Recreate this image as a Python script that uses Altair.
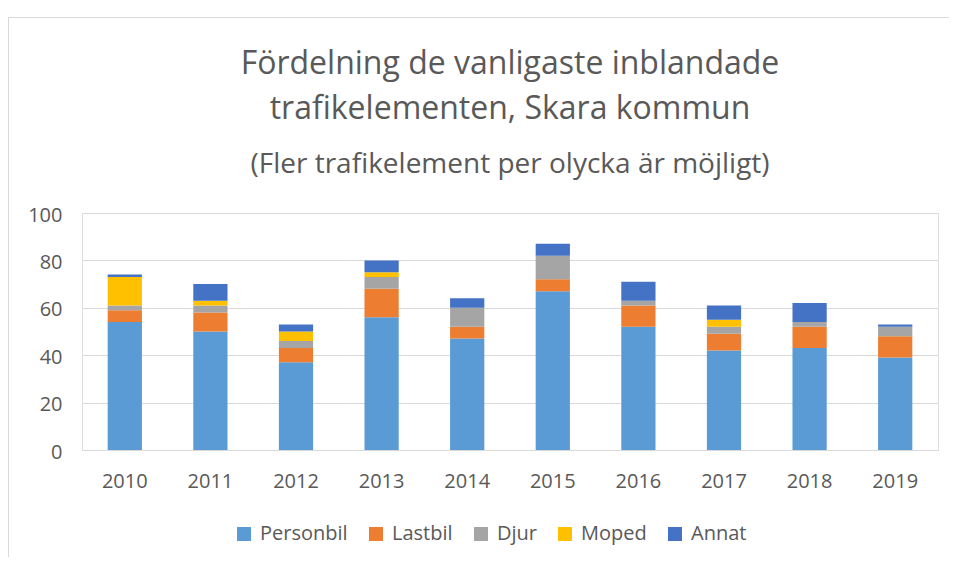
import altair as alt
import pandas as pd

years = ["2010", "2011", "2012", "2013", "2014", "2015", "2016", "2017", "2018", "2019"]
categories = ["Personbil", "Lastbil", "Djur", "Moped", "Annat"]
personbil = [54, 50, 37, 56, 47, 67, 52, 42, 43, 39]
lastbil = [5, 8, 6, 12, 5, 5, 9, 7, 9, 9]
djur = [2, 3, 3, 5, 8, 10, 2, 3, 2, 4]
moped = [12, 2, 4, 2, 0, 0, 0, 3, 0, 0]
annat = [1, 7, 3, 5, 4, 5, 8, 6, 8, 1]
colors = ["#5B9BD5", "#ED7D31", "#A5A5A5", "#FFC000", "#4472C4"]

title_line1 = "Fördelning de vanligaste inblandade"
title_line2 = "trafikelementen, Skara kommun"
subtitle = "(Fler trafikelement per olycka är möjligt)"

series = [personbil, lastbil, djur, moped, annat]
rows = []
for ci, (cat, vals) in enumerate(zip(categories, series)):
    for y, v in zip(years, vals):
        rows.append({"År": y, "Typ": cat, "Antal": v, "idx": ci})
df = pd.DataFrame(rows)

FONT = "Open Sans"
TXT = "#595959"

bars = alt.Chart(df).mark_bar().encode(
    x=alt.X("År:N", sort=years,
            scale=alt.Scale(paddingInner=0.6, paddingOuter=0.3),
            axis=alt.Axis(title=None, labelAngle=0, ticks=False, domain=True,
                          domainColor="#D9D9D9", domainWidth=1, labelPadding=21,
                          labelFontSize=20, labelColor=TXT, labelFont=FONT, grid=False)),
    y=alt.Y("Antal:Q", stack="zero",
            scale=alt.Scale(domain=[0, 100], nice=False),
            axis=alt.Axis(title=None, values=[0, 20, 40, 60, 80, 100], ticks=False,
                          domain=False, grid=True, gridColor="#D9D9D9", gridWidth=1,
                          labelPadding=20, labelFontSize=20, labelColor=TXT,
                          labelFont=FONT, labelOffset=2)),
    color=alt.Color("Typ:N", sort=categories,
                    scale=alt.Scale(domain=categories, range=colors),
                    legend=alt.Legend(title=None, orient="none", direction="horizontal",
                                      legendX=152, legendY=311, symbolType="square",
                                      symbolSize=196, symbolStrokeWidth=0,
                                      labelFontSize=20, labelColor=TXT, labelFont=FONT,
                                      labelOffset=6, columnPadding=18, padding=0)),
    order=alt.Order("idx:Q", sort="ascending"),
)

one = pd.DataFrame({"d": [0]})

border = alt.Chart(one).mark_rect(fill="transparent", stroke="#D9D9D9", strokeWidth=1).encode(
    x=alt.value(-73.5), x2=alt.value(1000), y=alt.value(-195.5), y2=alt.value(500)
)

t1 = alt.Chart(one).mark_text(text=title_line1, font=FONT, fontSize=32, color=TXT,
                              align="center", baseline="alphabetic").encode(
    x=alt.value(428), y=alt.value(-139))
t2 = alt.Chart(one).mark_text(text=title_line2, font=FONT, fontSize=32, color=TXT,
                              align="center", baseline="alphabetic").encode(
    x=alt.value(428), y=alt.value(-94))
t3 = alt.Chart(one).mark_text(text=subtitle, font=FONT, fontSize=28, color=TXT,
                              align="center", baseline="alphabetic").encode(
    x=alt.value(428), y=alt.value(-40))

chart = alt.layer(border, bars, t1, t2, t3).properties(
    width=856, height=237,
    padding={"left": 74, "top": 205, "right": 11, "bottom": 107},
    autosize=alt.AutoSizeParams(type="none"),
).configure_view(stroke=None).configure(background="white")

chart.save("out.html", embed_options={"renderer": "svg", "actions": False})
